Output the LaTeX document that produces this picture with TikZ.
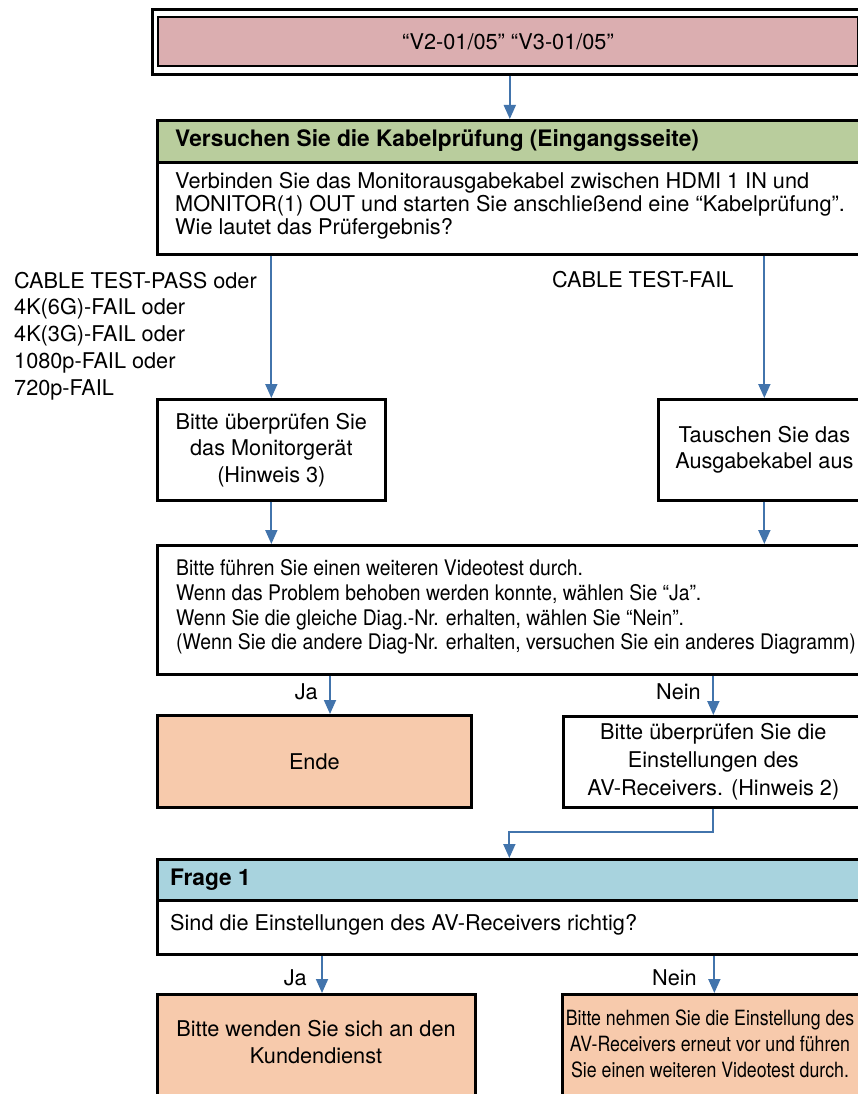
\documentclass[tikz,border=0pt]{standalone}
\usepackage{fontspec}
\setmainfont{TeX Gyre Heros}
\newfontfamily\narrowfont[FakeStretch=0.845]{TeX Gyre Heros}
\newfontfamily\semicondensed[FakeStretch=0.9]{TeX Gyre Heros}
\usetikzlibrary{arrows.meta}

\definecolor{pinkfill}{HTML}{DBAEB0}
\definecolor{greenfill}{HTML}{B9CD9D}
\definecolor{bluefill}{HTML}{A8D3DE}
\definecolor{peachfill}{HTML}{F7CAAC}
\definecolor{flowblue}{HTML}{4274AC}

\tikzset{
  every node/.style={font=\fontsize{21.7}{26.5}\selectfont, text=black},
  box/.style={draw=black, line width=2.7pt, rectangle, inner sep=0pt, anchor=north west},
  flow/.style={draw=flowblue, line width=1.8pt, -{Triangle[width=12pt,length=14pt]}},
  txt/.style={inner sep=0pt, align=center},
  ltxt/.style={inner sep=0pt, align=left, anchor=west},
  lbl/.style={inner sep=0pt, anchor=east},
  headtxt/.style={ltxt, font=\bfseries\fontsize{22.7}{26}\selectfont},
}

\begin{document}
\begin{tikzpicture}[x=1pt, y=-1pt]
  \useasboundingbox (0,0) rectangle (858,1094);
  \fill[white] (0,0) rectangle (858,1094);
  \clip (0,0) rectangle (858,1094);

  % error code banner (double frame)
  \node[box, line width=2.6pt, minimum width=715pt, minimum height=65pt] (frame) at (151,8) {};
  \node[box, line width=1.8pt, fill=pinkfill, minimum width=700pt, minimum height=49pt] (code) at (157,16)
    {\fontsize{21.7}{26}\selectfont “V2-01/05” “V3-01/05”};

  % cable test step
  \node[box, fill=greenfill, minimum width=704pt, minimum height=42pt] (head1) at (156,119) {};
  \node[headtxt] (head1txt) at (175,141) {Versuchen Sie die Kabelprüfung (Eingangsseite)};
  \node[box, fill=white, minimum width=704pt, minimum height=92pt] (body1) at (156,161) {};
  \node[ltxt, font=\fontsize{21.7}{22.8}\selectfont] (body1txt) at (175,206)
    {Verbinden Sie das Monitorausgabekabel zwischen HDMI 1 IN und\\
     MONITOR(1) OUT und starten Sie anschließend eine “Kabelprüfung”.\\
     Wie lautet das Prüfergebnis?};

  % branch labels
  \node[ltxt, font=\fontsize{21.7}{26.8}\selectfont] (passlbl) at (14,336)
    {CABLE TEST-PASS oder\\4K(6G)-FAIL oder\\4K(3G)-FAIL oder\\1080p-FAIL oder\\720p-FAIL};
  \node[ltxt] (faillbl) at (552,280) {CABLE TEST-FAIL};

  % actions
  \node[box, fill=white, minimum width=228pt, minimum height=101pt, align=center,
        font=\fontsize{21.7}{26.5}\selectfont] (bitte) at (156,398)
    {Bitte überprüfen Sie\\das Monitorgerät\\(Hinweis 3)};
  \node[box, fill=white, minimum width=212pt, minimum height=101pt, align=center,
        font=\fontsize{21.7}{26}\selectfont] (swap) at (657,398)
    {Tauschen Sie das\\Ausgabekabel aus};

  % video test
  \node[box, fill=white, minimum width=710pt, minimum height=129pt] (video) at (156,544) {};
  \node[ltxt, font=\semicondensed\fontsize{21.5}{24.7}\selectfont] (videotxt) at (176,607)
    {Bitte führen Sie einen weiteren Videotest durch.\\
     Wenn das Problem behoben werden konnte, wählen Sie “Ja”.\\
     Wenn Sie die gleiche Diag.-Nr. erhalten, wählen Sie “Nein”.\\
     (Wenn Sie die andere Diag-Nr. erhalten, versuchen Sie ein anderes Diagramm)};

  \node[box, fill=peachfill, minimum width=314pt, minimum height=92pt] (ende) at (156,714) {Ende};
  \node[box, fill=white, minimum width=300pt, minimum height=91pt, align=center,
        font=\fontsize{21.7}{28}\selectfont] (av) at (562,715)
    {Bitte überprüfen Sie die\\Einstellungen des\\AV-Receivers. (Hinweis 2)};

  % question 1
  \node[box, fill=bluefill, minimum width=704pt, minimum height=41pt] (head2) at (156,858) {};
  \node[headtxt] (head2txt) at (170,880) {Frage 1};
  \node[box, fill=white, minimum width=704pt, minimum height=54pt] (body2) at (156,899) {};
  \node[ltxt] (body2txt) at (170,925) {Sind die Einstellungen des AV-Receivers richtig?};

  \node[box, fill=peachfill, minimum width=318pt, minimum height=120pt] (service) at (156,993) {};
  \node[txt, font=\fontsize{21.7}{27}\selectfont] (servicetxt) at (316,1042)
    {Bitte wenden Sie sich an den\\Kundendienst};
  \node[box, fill=peachfill, minimum width=304pt, minimum height=120pt] (redo) at (561,993) {};
  \node[txt, font=\narrowfont\fontsize{21}{26}\selectfont] (redotxt) at (710,1044)
    {Bitte nehmen Sie die Einstellung des\\AV-Receivers erneut vor und führen\\Sie einen weiteren Videotest durch.};

  % yes / no labels
  \node[lbl] (ja1) at (318,692) {Ja};
  \node[lbl] (nein1) at (701,692) {Nein};
  \node[lbl] (ja2) at (307,978) {Ja};
  \node[lbl] (nein2) at (697,978) {Nein};

  % connector helpers
  \coordinate (jaA) at (330,0);
  \coordinate (jaB) at (322,0);
  \coordinate (bend) at (0,832);

  % connectors
  \draw[flow] (frame.south) -- (frame.south |- head1.north);
  \draw[flow] (body1.south -| bitte.north) -- (bitte.north);
  \draw[flow] (body1.south -| swap.north) -- (swap.north);
  \draw[flow] (bitte.south) -- (bitte.south |- video.north);
  \draw[flow] (swap.south) -- (swap.south |- video.north);
  \draw[flow] (video.south -| jaA) -- (ende.north -| jaA);
  \draw[flow] (video.south -| av.north) -- (av.north);
  \draw[flow] (av.south) -- (av.south |- bend) -- (head2.north |- bend) -- (head2.north);
  \draw[flow] (body2.south -| jaB) -- (service.north -| jaB);
  \draw[flow] (body2.south -| redo.north) -- (redo.north);
\end{tikzpicture}
\end{document}
